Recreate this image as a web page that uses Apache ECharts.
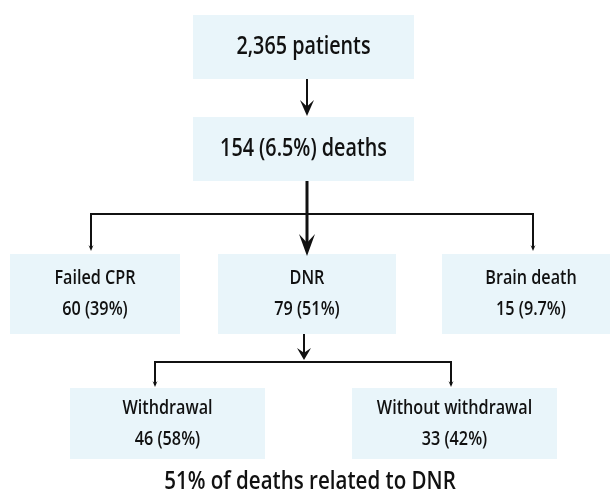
<!DOCTYPE html>
<html>
<head>
<meta charset="utf-8">
<script src="https://cdn.jsdelivr.net/npm/echarts@6/dist/echarts.min.js"></script>
<style>
  html, body { margin: 0; padding: 0; background: #fff; }
  #main { width: 610px; height: 496px; }
</style>
</head>
<body>
<div id="main"></div>
<script>
// node texts
var nodeTitles = ['2,365 patients', '154 (6.5%) deaths', 'Failed CPR', 'DNR', 'Brain death', 'Withdrawal', 'Without withdrawal'];
var nodeCounts = [null, null, 60, 79, 15, 46, 33];
var nodePcts = [null, null, '39%', '51%', '9.7%', '58%', '42%'];
var caption = '51% of deaths related to DNR';

// box layout: x0, y0, x1, y1 (diagram units)
var boxLayout = [
    [193, 15, 414, 79],
    [193, 117, 414, 181],
    [10, 254, 180, 334],
    [218, 254, 396, 334],
    [442, 254, 620, 334],
    [70, 388, 265, 459],
    [352, 388, 557, 459]
];
// connectors: points, line width, arrow head [width, length] (0 = none)
var edgeLayout = [
    { pts: [[307, 79], [307, 116]], w: 2, head: [14, 16] },
    { pts: [[307, 181], [307, 256]], w: 3, head: [16, 22] },
    { pts: [[91, 248], [91, 214], [533, 214], [533, 248]], w: 2, head: [0, 0] },
    { pts: [[91, 240], [91, 251]], w: 2, head: [5, 6] },
    { pts: [[533, 240], [533, 251]], w: 2, head: [5, 6] },
    { pts: [[304, 334], [304, 360]], w: 2, head: [14, 12] },
    { pts: [[155, 385], [155, 362], [451, 362], [451, 385]], w: 2, head: [0, 0] },
    { pts: [[155, 378], [155, 387]], w: 2, head: [5, 6] },
    { pts: [[451, 378], [451, 387]], w: 2, head: [5, 6] }
];

var FONT = "'Open Sans', 'Noto Sans', sans-serif";
var SQUEEZE = 0.79;

var myChart = echarts.init(document.getElementById('main'));

function label(text, x, y, size) {
    return {
        type: 'text',
        x: x, y: y, scaleX: SQUEEZE,
        style: {
            text: text, x: 0, y: 0,
            align: 'center', verticalAlign: 'middle',
            fontSize: size, fontWeight: 600, fontFamily: FONT, fill: '#111'
        }
    };
}

function renderBox(params, api) {
    var i = api.value(4);
    var p0 = api.coord([api.value(0), api.value(1)]);
    var p1 = api.coord([api.value(2), api.value(3)]);
    var cx = (p0[0] + p1[0]) / 2;
    var cy = (p0[1] + p1[1]) / 2;
    var h = p1[1] - p0[1];
    var children = [{
        type: 'rect',
        shape: { x: p0[0], y: p0[1], width: p1[0] - p0[0], height: h },
        style: { fill: '#e9f5fa' }
    }];
    if (nodeCounts[i] === null) {
        children.push(label(nodeTitles[i], cx, cy, 25));
    } else {
        children.push(label(nodeTitles[i], cx, cy - 15.5, 20.5));
        children.push(label(nodeCounts[i] + ' (' + nodePcts[i] + ')', cx, cy + 15.5, 20.5));
    }
    return { type: 'group', children: children };
}

function renderEdge(params, api) {
    var e = edgeLayout[api.value(0)];
    var pts = e.pts.map(function (p) { return api.coord(p); });
    var children = [];
    var hw = e.head[0], hl = e.head[1];
    var last = pts[pts.length - 1];
    var linePts = pts.slice();
    if (hl > 0) {
        linePts[linePts.length - 1] = [last[0], last[1] - hl * 0.5];
    }
    children.push({
        type: 'polyline',
        shape: { points: linePts },
        style: { stroke: '#111', lineWidth: e.w, fill: null }
    });
    if (hl > 0) {
        children.push({
            type: 'polygon',
            shape: { points: [[last[0] - hw / 2, last[1] - hl], [last[0], last[1] - hl * 0.6], [last[0] + hw / 2, last[1] - hl], [last[0], last[1]]] },
            style: { fill: '#111' }
        });
    }
    return { type: 'group', children: children };
}

var option = {
    animation: false,
    grid: { left: 0, right: 0, top: 0, bottom: 0 },
    xAxis: { type: 'value', min: 0, max: 610, show: false },
    yAxis: { type: 'value', min: 0, max: 496, inverse: true, show: false },
    graphic: [
        label(caption, 310, 482, 26)
    ],
    series: [
        {
            type: 'custom',
            renderItem: renderBox,
            encode: { x: [0, 2], y: [1, 3] },
            data: boxLayout.map(function (b, i) { return [b[0], b[1], b[2], b[3], i]; }),
            silent: true
        },
        {
            type: 'custom',
            renderItem: renderEdge,
            data: edgeLayout.map(function (e, k) { return [k, e.pts[0][0], e.pts[0][1]]; }),
            encode: { x: 1, y: 2 },
            silent: true
        }
    ]
};

myChart.setOption(option);
</script>
</body>
</html>
